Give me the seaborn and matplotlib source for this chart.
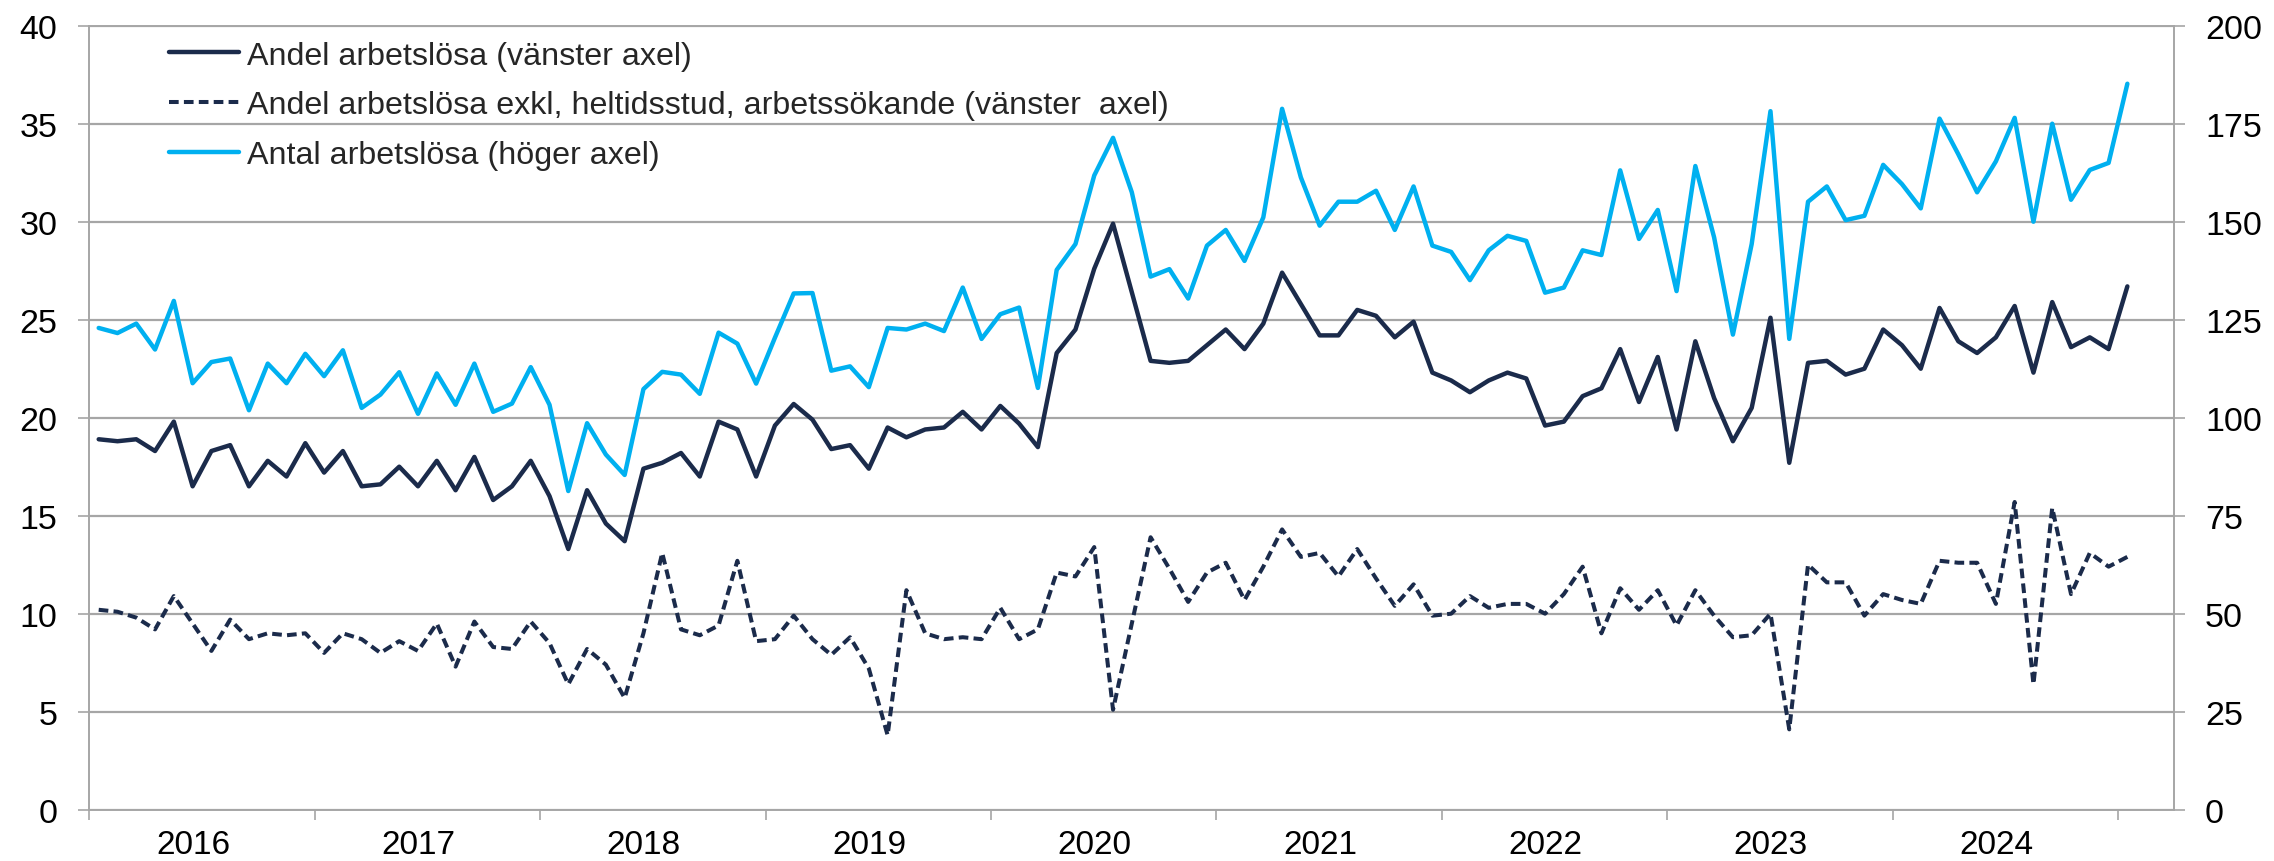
import numpy as np
import pandas as pd
import matplotlib
matplotlib.use("Agg")
import matplotlib.pyplot as plt
import matplotlib.transforms as mtransforms
import seaborn as sns
from matplotlib.ticker import FixedLocator, NullFormatter, FixedFormatter

# ---------------- data (monthly, Jan 2016 - Jan 2025) ----------------
years = ["2016", "2017", "2018", "2019", "2020", "2021", "2022", "2023", "2024"]

andel = [18.9, 18.8, 18.9, 18.3, 19.8, 16.5, 18.3, 18.6, 16.5, 17.8,
         17.0, 18.7, 17.2, 18.3, 16.5, 16.6, 17.5, 16.5, 17.8, 16.3,
         18.0, 15.8, 16.5, 17.8, 16.0, 13.3, 16.3, 14.6, 13.7, 17.4,
         17.7, 18.2, 17.0, 19.8, 19.4, 17.0, 19.6, 20.7, 19.9, 18.4,
         18.6, 17.4, 19.5, 19.0, 19.4, 19.5, 20.3, 19.4, 20.6, 19.7,
         18.5, 23.3, 24.5, 27.6, 29.9, 26.4, 22.9, 22.8, 22.9, 23.7,
         24.5, 23.5, 24.8, 27.4, 25.8, 24.2, 24.2, 25.5, 25.2, 24.1,
         24.9, 22.3, 21.9, 21.3, 21.9, 22.3, 22.0, 19.6, 19.8, 21.1,
         21.5, 23.5, 20.8, 23.1, 19.4, 23.9, 21.0, 18.8, 20.5, 25.1,
         17.7, 22.8, 22.9, 22.2, 22.5, 24.5, 23.7, 22.5, 25.6, 23.9,
         23.3, 24.1, 25.7, 22.3, 25.9, 23.6, 24.1, 23.5, 26.7]

andel_exkl = [10.2, 10.1, 9.8, 9.2, 10.9, 9.5, 8.1, 9.7, 8.7, 9.0,
              8.9, 9.0, 8.0, 9.0, 8.7, 8.0, 8.6, 8.1, 9.5, 7.3,
              9.6, 8.3, 8.2, 9.6, 8.5, 6.4, 8.2, 7.4, 5.7, 9.0,
              13.1, 9.2, 8.9, 9.4, 12.7, 8.6, 8.7, 9.9, 8.7, 7.9,
              8.8, 7.2, 3.8, 11.2, 9.0, 8.7, 8.8, 8.7, 10.3, 8.7,
              9.2, 12.1, 11.9, 13.4, 5.1, 9.5, 13.9, 12.3, 10.6, 12.1,
              12.6, 10.7, 12.4, 14.3, 12.9, 13.1, 11.9, 13.3, 11.8, 10.4,
              11.5, 9.9, 10.0, 10.9, 10.3, 10.5, 10.5, 10.0, 11.0, 12.4,
              9.0, 11.3, 10.2, 11.2, 9.4, 11.2, 9.9, 8.8, 8.9, 10.0,
              4.1, 12.5, 11.6, 11.6, 9.9, 11.0, 10.7, 10.5, 12.7, 12.6,
              12.6, 10.5, 15.7, 6.4, 15.4, 11.0, 13.1, 12.4, 12.9]

antal = [122.9, 121.6, 124.0, 117.4, 129.8, 108.8, 114.2, 115.1, 101.9, 113.8,
         108.8, 116.3, 110.6, 117.2, 102.5, 105.9, 111.6, 101.0, 111.3, 103.3,
         113.8, 101.5, 103.6, 112.9, 103.3, 81.3, 98.6, 90.6, 85.4, 107.3,
         111.7, 111.0, 106.1, 121.7, 118.9, 108.7, 120.4, 131.7, 131.8, 112.0,
         113.1, 107.8, 122.9, 122.5, 124.0, 122.1, 133.2, 120.1, 126.4, 128.1,
         107.6, 137.7, 144.3, 161.8, 171.4, 157.5, 136.0, 137.9, 130.4, 143.9,
         147.9, 140.0, 151.1, 178.8, 161.3, 149.0, 155.1, 155.1, 157.9, 147.9,
         159.0, 143.9, 142.3, 135.1, 142.7, 146.4, 145.1, 131.9, 133.2, 142.7,
         141.5, 163.1, 145.6, 153.0, 132.3, 164.2, 146.0, 121.2, 144.3, 178.2,
         120.1, 155.1, 159.0, 150.4, 151.5, 164.5, 159.6, 153.4, 176.3, 167.2,
         157.5, 165.4, 176.5, 150.0, 175.0, 155.6, 163.2, 165.0, 185.2]

label_andel = "Andel arbetslösa (vänster axel)"
label_exkl = "Andel arbetslösa exkl, heltidsstud, arbetssökande (vänster  axel)"
label_antal = "Antal arbetslösa (höger axel)"

left_ticks = [0, 5, 10, 15, 20, 25, 30, 35, 40]
right_ticks = [0, 25, 50, 75, 100, 125, 150, 175, 200]

# ---------------- styling ----------------
sns.set_theme(style="white")
plt.rcParams["font.family"] = ["Liberation Sans", "DejaVu Sans"]

DARK = "#1B2B4B"
BLUE = "#00B0F0"
GRID = "#A6A6A6"

n = len(andel)
df = pd.DataFrame({
    "month": np.arange(n) + 0.5,
    "andel": andel,
    "exkl": andel_exkl,
    "antal": antal,
})

fig = plt.figure(figsize=(22.74, 8.62), dpi=100)
ax = fig.add_axes([0.03927, 0.05951, 0.9169, 0.9095])
ax2 = ax.twinx()

sns.lineplot(data=df, x="month", y="andel", ax=ax, color=DARK, linewidth=3.2,
             legend=False)
sns.lineplot(data=df, x="month", y="exkl", ax=ax, color=DARK, linewidth=2.9,
             linestyle=(0, (2.4, 1.3)), legend=False)
sns.lineplot(data=df, x="month", y="antal", ax=ax2, color=BLUE, linewidth=3.2,
             legend=False)

# axes limits
ax.set_xlim(0, 111)
ax.set_ylim(0, 40)
ax2.set_ylim(0, 200)
ax.set_xlabel("")
ax.set_ylabel("")
ax2.set_ylabel("")

# y ticks
ax.yaxis.set_major_locator(FixedLocator(left_ticks))
ax2.yaxis.set_major_locator(FixedLocator(right_ticks))
ax.yaxis.grid(True, color=GRID, linewidth=1.6)
ax.xaxis.grid(False)
ax2.grid(False)
ax.set_axisbelow(True)

ax.tick_params(axis="y", which="major", left=True, direction="out", length=8,
               width=1.2, color=GRID, labelsize=24.5, pad=15, labelcolor="black")
ax2.tick_params(axis="y", which="major", right=True, direction="out", length=8,
                width=1.2, color=GRID, labelsize=24.5, pad=14, labelcolor="black")

# x ticks: year boundaries as tick marks, year labels centred
ax.xaxis.set_major_locator(FixedLocator(np.arange(0, 12 * len(years) + 1, 12)))
ax.xaxis.set_major_formatter(NullFormatter())
ax.xaxis.set_minor_locator(FixedLocator(np.arange(6, 12 * len(years), 12)))
ax.xaxis.set_minor_formatter(FixedFormatter(years))
ax.tick_params(axis="x", which="major", bottom=True, direction="out", length=7,
               width=1.2, color=GRID)
ax.tick_params(axis="x", which="minor", bottom=True, length=0, labelsize=24,
               pad=14, labelcolor="black")
shift = mtransforms.ScaledTranslation(-9 / 100, 0, fig.dpi_scale_trans)
for lbl in ax.xaxis.get_minorticklabels():
    lbl.set_transform(lbl.get_transform() + shift)

# spines
for s in ["left", "bottom", "top"]:
    ax.spines[s].set_visible(True)
    ax.spines[s].set_color(GRID)
    ax.spines[s].set_linewidth(1.4)
ax.spines["right"].set_visible(False)
for s in ["left", "bottom", "top"]:
    ax2.spines[s].set_visible(False)
ax2.spines["right"].set_visible(True)
ax2.spines["right"].set_color(GRID)
ax2.spines["right"].set_linewidth(1.4)

# legend
handles = [ax.lines[0], ax.lines[1], ax2.lines[0]]
labels = [label_andel, label_exkl, label_antal]
fig.legend(handles, labels, loc="upper left",
           bbox_to_anchor=(168.6 / 2274, 1 - 41.5 / 862),
           frameon=False, fontsize=23.2, handlelength=2.2, handletextpad=0.22,
           labelspacing=0.62, borderpad=0, borderaxespad=0)

fig.savefig("out.png", dpi=100)
